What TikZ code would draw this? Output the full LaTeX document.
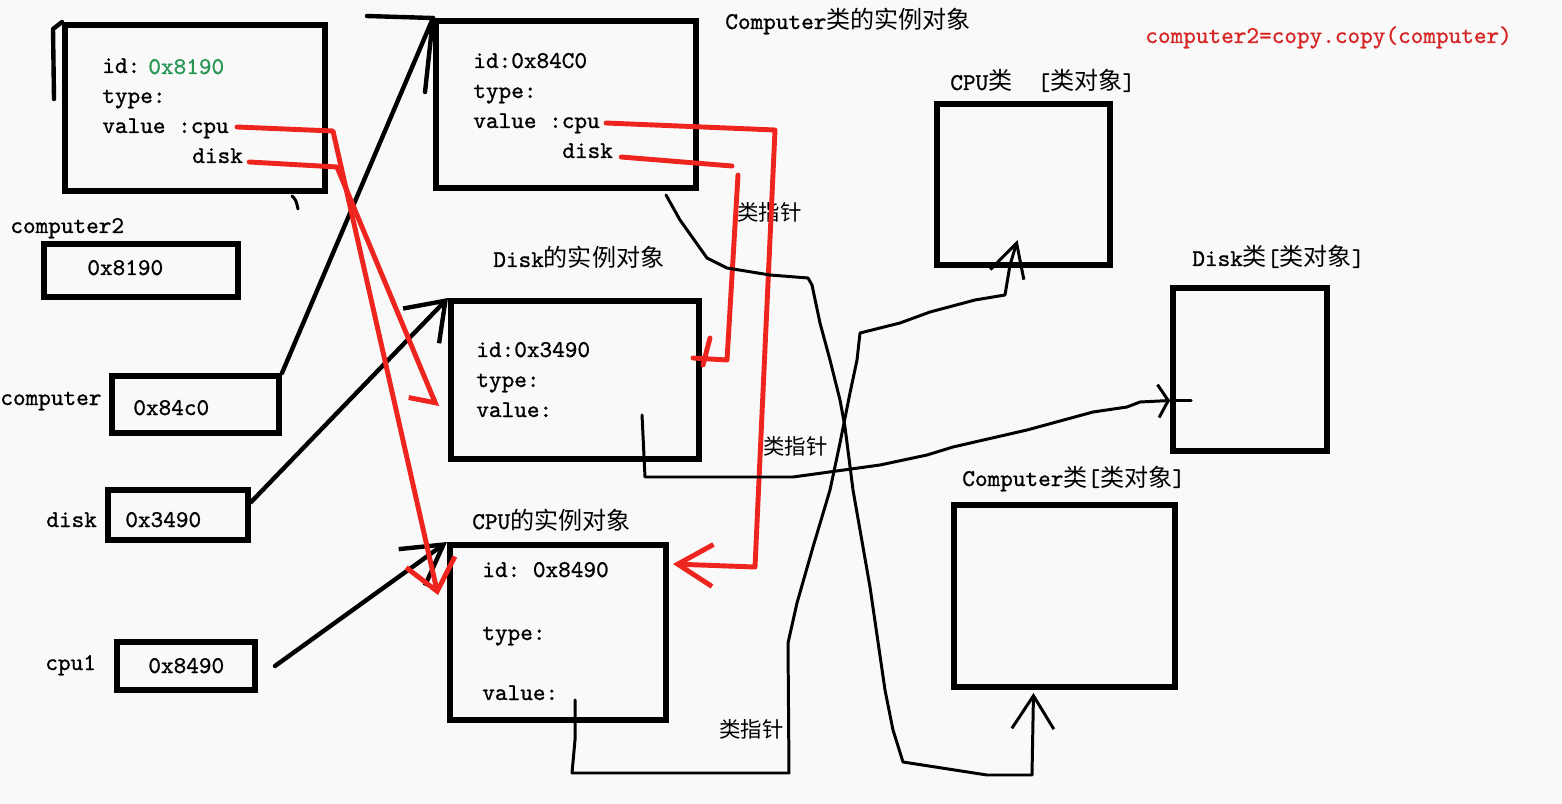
\documentclass[tikz,border=0pt]{standalone}
\usepackage{fontspec}
\setmonofont{lmmono10-regular.otf}[FakeBold=1]
\newfontfamily\cjk{Noto Sans CJK SC}
\newcommand{\zh}[1]{{\cjk #1}}
\usetikzlibrary{arrows.meta,calc,fit}
\definecolor{paper}{RGB}{249,249,249}
\definecolor{pen}{RGB}{238,36,30}
\definecolor{ink}{RGB}{214,38,38}
\definecolor{leaf}{RGB}{40,150,85}
\begin{document}
\begin{tikzpicture}[x=0.02cm,y=-0.02cm,
  box/.style={draw,line width=3.4pt,inner sep=0pt},
  txt/.style={inner sep=0pt,anchor=base west,font=\ttfamily\fontsize{13.7}{16}\selectfont},
  ptr/.style={txt,font=\cjk\fontsize{12.2}{14}\selectfont},
  link/.style={line width=2.5pt,line cap=round,line join=round},
  redlink/.style={pen,line width=2.8pt,line cap=round,line join=round},
  clsptr/.style={line width=1.7pt,line cap=round,line join=round}]
\fill[paper] (0,0) rectangle (1562,804);
\useasboundingbox (0,0) rectangle (1562,804);
\node[box,fit={(65,25) (325,191)}] (inst2) {};
\node[box,fit={(436,21) (696,188)}] (inst) {};
\node[box,fit={(451,301) (699,459)}] (dinst) {};
\node[box,fit={(450,545) (666,720)}] (cinst) {};
\node[box,fit={(44,244) (238,297)}] (v2) {};
\node[box,fit={(112,376) (279,433)}] (vcomp) {};
\node[box,fit={(108,490) (248,540)}] (vdisk) {};
\node[box,fit={(117,642) (255,690)}] (vcpu) {};
\node[box,fit={(937,104) (1110,265)}] (cpucls) {};
\node[box,fit={(1173,288) (1327,451)}] (diskcls) {};
\node[box,fit={(954,505) (1175,687)}] (compcls) {};
\node[txt] (a-id) at (102,73) {id:};
\node[txt,text=leaf] (a-idv) at (148,74) {0x8190};
\node[txt] (a-type) at (102,103) {type:};
\node[txt] (a-cpu) at (102,133) {value :cpu};
\node[txt] (a-disk) at (192,163) {disk};
\node[txt] (b-id) at (473,68) {id:0x84C0};
\node[txt] (b-type) at (473,98) {type:};
\node[txt] (b-cpu) at (473,128) {value :cpu};
\node[txt] (b-disk) at (562,158) {disk};
\node[txt] (d-id) at (476,357) {id:0x3490};
\node[txt] (d-type) at (476,387) {type:};
\node[txt] (d-val) at (476,417) {value:};
\node[txt] (c-id) at (482,577) {id: 0x8490};
\node[txt] (c-type) at (482,640) {type:};
\node[txt] (c-val) at (482,700) {value:};
\node[txt] (l-v2) at (10,233) {computer2};
\node[txt] (l-comp) at (0,405) {computer};
\node[txt] (l-disk) at (46,527) {disk};
\node[txt] (l-cpu) at (45,670) {cpu1};
\node[txt] (n-v2) at (87,275) {0x8190};
\node[txt] (n-comp) at (133,415) {0x84c0};
\node[txt] (n-disk) at (125,527) {0x3490};
\node[txt] (n-cpu) at (148,673) {0x8490};
\node[txt] (t-comp) at (725,29) {Computer\zh{类的实例对象}};
\node[txt,text=ink] (t-copy) at (1145,43) {computer2=copy.copy(computer)};
\node[txt] (t-disk) at (493,267) {Disk\zh{的实例对象}};
\node[txt] (t-cpu) at (472,529) {CPU\zh{的实例对象}};
\node[txt] (t-cpucls) at (950,90) {CPU\zh{类}\ \ [\zh{类对象}]};
\node[txt] (t-diskcls) at (1192,266) {Disk\zh{类}[\zh{类对象}]};
\node[txt] (t-compcls) at (962,486) {Computer\zh{类}[\zh{类对象}]};
\node[ptr] (p-comp) at (737,221) {类指针};
\node[ptr] (p-disk) at (763,454) {类指针};
\node[ptr] (p-cpu) at (719,737) {类指针};
\draw[link] ($(inst2.north west)+(-8,77)$) -- ($(inst2.north west)+(-9,7)$) -- (inst2.north west);
\draw[clsptr] (292,196) .. controls (296,200) .. (298,209);
\draw[link] (vcomp.north east) -- (inst.north west);
\draw[link] ($(inst.north west)+(-66,-2)$) -- (inst.north west) -- ++(-8,74);
\draw[link,-{Straight Barb[length=0.7cm,width=1cm]}] (vdisk.10) -- (dinst.north west);
\draw[link,-{Straight Barb[length=0.78cm,width=0.9cm]}] ([xshift=0.34cm]vcpu.east) -- (cinst.north west);
\draw[redlink,-{Straight Barb[length=0.6cm,width=1cm]}] ($(a-cpu.base east)+(8,-6)$) -- (333,131) -- ($(cinst.north west)+(-9,53)$);
\draw[redlink,-{Straight Barb[right,length=0.3cm,width=0.9cm]}] ($(a-disk.base east)+(6,-1)$) -- (337,167) -- ($(dinst.west)+(-11,27)$);
\draw[redlink,-{Straight Barb[length=0.7cm,width=0.84cm]}] ($(b-cpu.base east)+(6,-5)$) -- (775,130) -- (755,567) -- ($(cinst.north east)+(4,22)$);
\draw[redlink] ($(b-disk.base east)+(8,-1)$) -- (732,166) (738,175) -- (727,360) -- ($(dinst.east)+(-9,-22)$);
\draw[redlink] (710,338) -- (703,365);
\draw[clsptr,-{Straight Barb[length=0.66cm,width=0.84cm]}] ($(inst.south east)+(-33,4)$) -- (680,220) -- (707,258) -- (727,268) -- (770,275) -- (808,278) -- (812,285) -- (820,323) -- (830,360) -- (840,400) -- (845,427) -- (853,490) -- (870,587) -- (885,690) -- (893,730) -- (903,762) -- (987,775) -- (1032,775) -- ($(compcls.south)+(-31,3)$);
\draw[clsptr,-{Straight Barb[length=0.66cm,width=0.7cm]}] ($(cinst.south west)+(128,-23)$) -- (575,740) -- (572,773) -- (789,773) -- (788,643) -- (797,603) -- (813,547) -- (830,490) -- (840,443) -- (850,393) -- (857,360) -- (860,333) -- (900,323) -- (930,312) -- (975,300) -- (1005,295) -- (1010,265) -- ($(cpucls.south)+(-6,-28)$);
\draw[clsptr,-{Straight Barb[length=0.2cm,width=0.66cm]}] ($(dinst.south west)+(194,-47)$) -- (645,477) -- (793,477) -- (880,465) -- (927,455) -- (953,447) -- (1027,430) -- (1093,412) -- (1127,407) -- (1140,402) -- ($(diskcls.west)+(0,31)$);
\draw[clsptr] ($(diskcls.west)+(0,31)$) -- ++(21,0);
\end{tikzpicture}
\end{document}
